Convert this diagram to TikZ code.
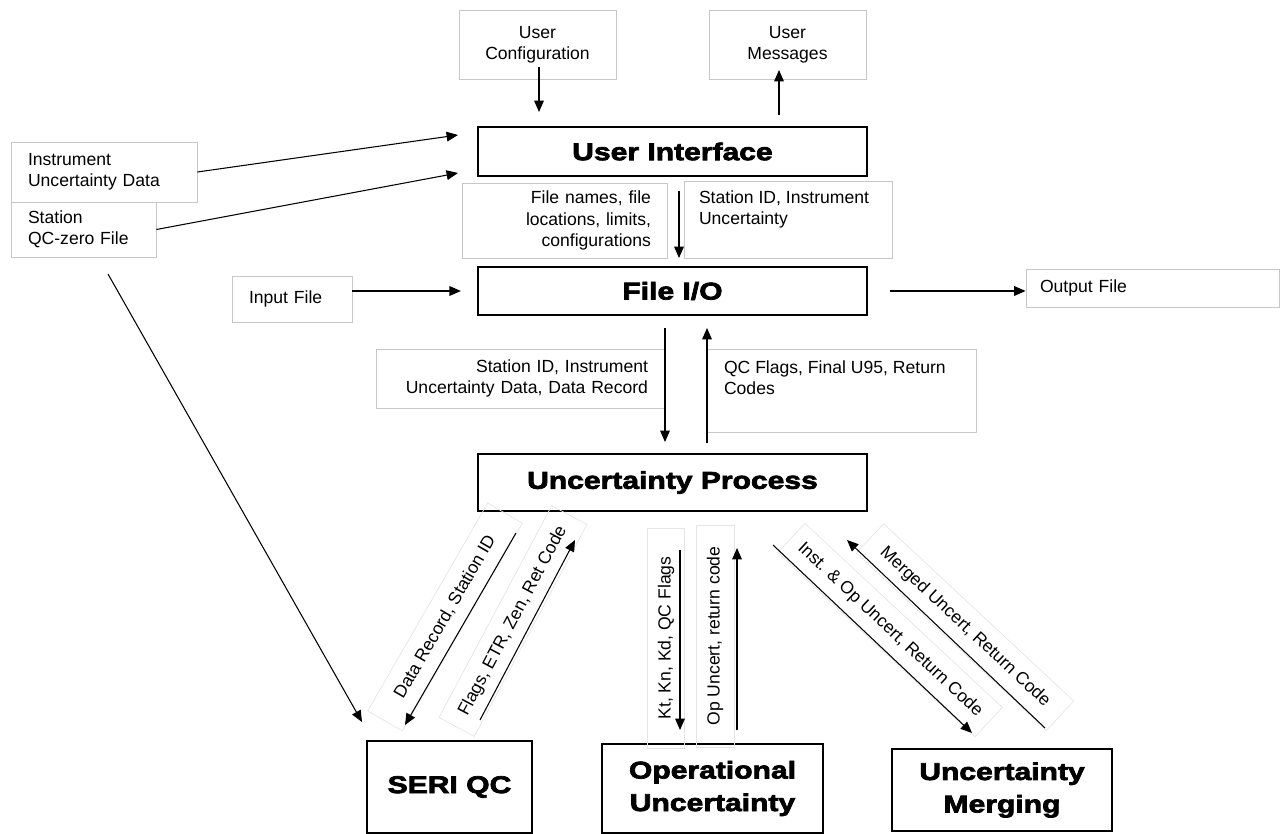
\documentclass[tikz,border=0pt]{standalone}
\usepackage{fontspec}
\setmainfont{Liberation Sans}
\newfontfamily\headfont[FakeStretch=1.24,BoldFeatures={FakeBold=3}]{Liberation Sans}
\usetikzlibrary{arrows.meta}
\usetikzlibrary{calc}

\newcommand{\notefont}{\fontsize{10}{12}\selectfont}
\newcommand{\topbox}[3]{\parbox[c][#1][t]{#2}{\raggedright #3}}

\begin{document}
\begin{tikzpicture}[x=0.02cm,y=-0.02cm,>={Triangle[length=6.5pt,width=5.5pt]},
    proc/.style={draw,line width=1.3pt,font=\headfont\bfseries\fontsize{13.8}{18.5}\selectfont,align=center,inner sep=0pt},
    note/.style={draw=black!22,line width=0.5pt,font=\notefont,inner sep=0pt},
    tag/.style={draw=black!10,line width=0.4pt,font=\notefont,inner sep=0pt},
    link/.style={->,line width=0.6pt}]
    \useasboundingbox (0,0) rectangle (1280,834);
    % main blocks
    \node[proc,minimum width=7.78cm,minimum height=0.98cm] (ui) at (672.5,151.5) {User Interface};
    \node[proc,minimum width=7.78cm,minimum height=0.96cm] (fio) at (672.5,291) {File I/O};
    \node[proc,minimum width=7.78cm,minimum height=1.14cm] (up) at (672.5,482.5) {Uncertainty Process};
    \node[proc,minimum width=3.3cm,minimum height=1.84cm] (seri) at (449.5,787) {SERI QC};
    \node[proc,minimum width=4.42cm,minimum height=1.78cm] (opu) at (712.5,788.5) {Operational\\Uncertainty};
    \node[proc,minimum width=4.4cm,minimum height=1.64cm] (merge) at (1002,790) {Uncertainty\\Merging};
    %
    % files and user side
    \node[note,minimum width=3.14cm,minimum height=1.38cm,align=center] (ucfg) at (537.5,44.5) {User\\Configuration};
    \node[note,minimum width=3.14cm,minimum height=1.38cm,align=center] (umsg) at (787.5,44.5) {User\\Messages};
    \node[note,minimum width=3.72cm,minimum height=1.2cm,text width=3.04cm,align=left] (inst) at (104,172) {Instrument\\Uncertainty Data};
    \node[note,minimum width=2.9cm,minimum height=1.1cm,text width=2.22cm,align=left] (stqc) at (83.5,229.5) {Station\\QC-zero File};
    \node[note,minimum width=2.4cm,minimum height=0.92cm,text width=1.72cm,align=left] (infile) at (292,299) {Input File};
    \node[note,minimum width=5.06cm,minimum height=0.76cm,text width=4.5cm,align=left] (outfile) at (1152.5,288) {Output File};
    %
    % data passed between blocks
    \node[note,minimum width=4.1cm,minimum height=1.5cm,text width=3.46cm,align=right] (fnames) at (564.5,220.5) {File names, file\\locations, limits,\\configurations};
    \node[note,inner xsep=0.3cm,inner ysep=0.2cm] (stinst) at (788,219.5) {\topbox{1.14cm}{3.56cm}{Station ID, Instrument\\Uncertainty}};
    \node[note,minimum width=5.78cm,minimum height=1.18cm,text width=5.1cm,align=right] (stdata) at (520.5,378.5) {Station ID, Instrument\\Uncertainty Data, Data Record};
    \node[note,inner xsep=0.34cm,inner ysep=0.24cm] (qcf) at (841.5,390.5) {\topbox{1.18cm}{4.7cm}{QC Flags, Final U95, Return\\Codes}};
    \node[tag,rotate=60,minimum width=4.8cm,minimum height=0.8cm] (tagA) at (445,617) {Data Record, Station ID};
    \node[tag,rotate=62,minimum width=4.8cm,minimum height=0.8cm] (tagB) at (513,621) {Flags, ETR, Zen, Ret Code};
    \node[tag,rotate=90,minimum width=4.4cm,minimum height=0.74cm] (tagC) at (666,638) {Kt, Kn, Kd, QC Flags};
    \node[tag,rotate=90,minimum width=4.44cm,minimum height=0.76cm] (tagD) at (715,636) {Op Uncert, return code};
    \node[tag,rotate=-43,minimum width=5.4cm,minimum height=0.8cm] (tagE) at (890,630) {Inst. \& Op Uncert, Return Code};
    \node[tag,rotate=-43,minimum width=5.2cm,minimum height=0.8cm] (tagF) at (965,627) {Merged Uncert, Return Code};
    %
    % free arrow ends
    \coordinate (cfgout) at (539,67);   \coordinate (cfgin) at (539,112);
    \coordinate (msgout) at (779,115);  \coordinate (msgin) at (779,70);
    \coordinate (instin) at (458,135);  \coordinate (stqcin) at (458,173);
    \coordinate (qcz) at (108,274);     \coordinate (qczin) at (362,722);
    \coordinate (fnout) at (679,191);   \coordinate (fnin) at (679,258);
    \coordinate (downA) at (665,328);   \coordinate (downB) at (665,442);
    \coordinate (upA) at (707,443);     \coordinate (upB) at (707,328);
    \coordinate (a1) at (516,533);      \coordinate (a2) at (405,725);
    \coordinate (b1) at (480,720);      \coordinate (b2) at (575,540);
    \coordinate (c1) at (680,550);      \coordinate (c2) at (680,730);
    \coordinate (d1) at (737,730);      \coordinate (d2) at (737,548);
    \coordinate (e1) at (773,545);      \coordinate (e2) at (972,733);
    \coordinate (f1) at (1045,728);     \coordinate (f2) at (847,540);
    %
    \draw[link] (cfgout) -- (cfgin);
    \draw[link] (msgout) -- (msgin);
    \draw[link] (inst.east) -- (instin);
    \draw[link] (stqc.east) -- (stqcin);
    \draw[link] (qcz) -- (qczin);
    \draw[link] (fnout) -- (fnin);
    \draw[link] (infile.east |- fio.west) -- ($(fio.west)+(-16,0)$);
    \draw[link] ($(fio.east)+(22,0)$) -- (outfile.west |- fio.east);
    \draw[link] (downA) -- (downB);
    \draw[link] (upA) -- (upB);
    \draw[link] (a1) -- (a2);
    \draw[link] (b1) -- (b2);
    \draw[link] (c1) -- (c2);
    \draw[link] (d1) -- (d2);
    \draw[link] (e1) -- (e2);
    \draw[link] (f1) -- (f2);
\end{tikzpicture}
\end{document}
